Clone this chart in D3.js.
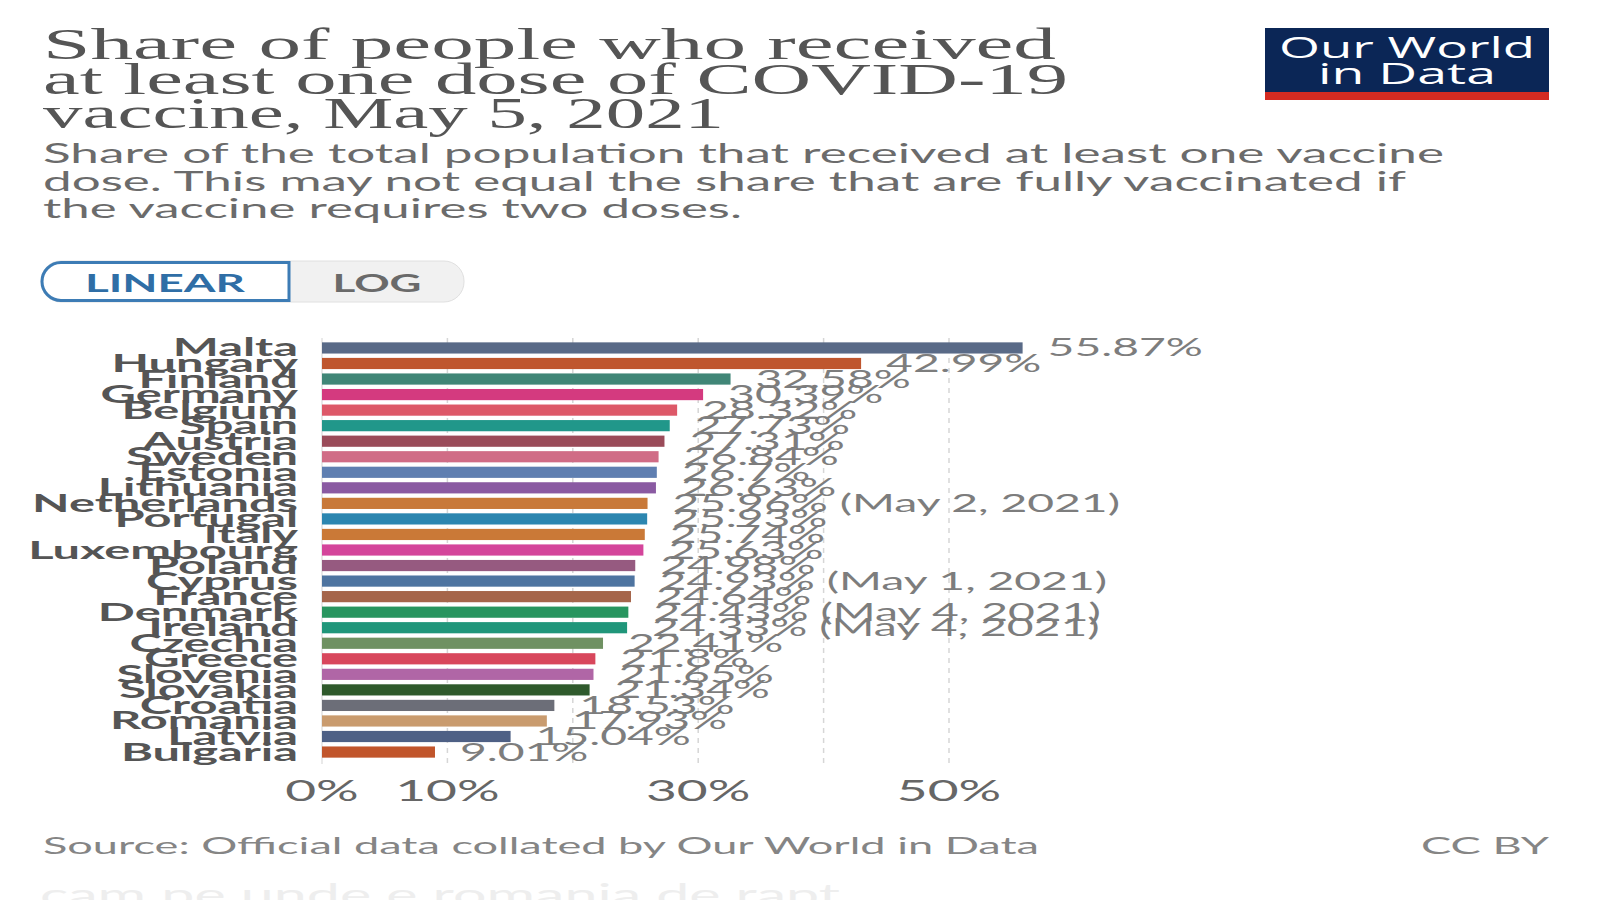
<!DOCTYPE html>
<html>
<head>
<meta charset="utf-8">
<script src="https://cdn.jsdelivr.net/npm/d3@7"></script>
<style>
	html, body { margin: 0; padding: 0; background: #fff; }
	svg { display: block; }
</style>
</head>
<body>
<svg id="chart" width="1600" height="900"></svg>
<script>
// data
var countries = ['Malta', 'Hungary', 'Finland', 'Germany', 'Belgium', 'Spain', 'Austria',
	'Sweden', 'Estonia', 'Lithuania', 'Netherlands', 'Portugal', 'Italy', 'Luxembourg',
	'Poland', 'Cyprus', 'France', 'Denmark', 'Ireland', 'Czechia', 'Greece', 'Slovenia',
	'Slovakia', 'Croatia', 'Romania', 'Latvia', 'Bulgaria'];
var values = [55.87, 42.99, 32.58, 30.39, 28.32, 27.73, 27.31, 26.84, 26.7, 26.63, 25.96,
	25.93, 25.74, 25.63, 24.98, 24.93, 24.64, 24.43, 24.33, 22.41, 21.8, 21.65, 21.34,
	18.53, 17.93, 15.04, 9.01];
var notes = {
	'Netherlands': '(May 2, 2021)',
	'Cyprus': '(May 1, 2021)',
	'Denmark': '(May 4, 2021)',
	'Ireland': '(May 4, 2021)'
};
var colors = ['#596a87', '#bf562e', '#408677', '#d43a7f', '#dd5868', '#21978a', '#9a4b59',
	'#d06c86', '#5f7fb1', '#8a5aa2', '#c8793a', '#2c86b0', '#ca7937', '#d4459b', '#965a80',
	'#4e74a0', '#a5654a', '#28955f', '#20967a', '#6f9162', '#d8475c', '#b066a6', '#2f5a2c',
	'#6c6e78', '#c99b6e', '#4e6085', '#c1552b'];
var gridTicks = [10, 20, 30, 40, 50];
var tickLabels = [0, 10, 30, 50];

var titleLines = ['Share of people who received', 'at least one dose of COVID-19', 'vaccine, May 5, 2021'];
var subtitleLines = ['Share of the total population that received at least one vaccine',
	'dose. This may not equal the share that are fully vaccinated if',
	'the vaccine requires two doses.'];
var sourceText = 'Source: Official data collated by Our World in Data';

var svg = d3.select('#chart');
var SX = 1.85; // the screenshot is stretched sideways

function stretch(sel, k) {
	sel.each(function () {
		var w = this.getComputedTextLength();
		d3.select(this).attr('textLength', w * k).attr('lengthAdjust', 'spacingAndGlyphs');
	});
}

svg.append('rect').attr('width', 1600).attr('height', 900).attr('fill', '#fff');

// title + subtitle
var titleW = [1013, 1025, 681];
svg.selectAll('text.title').data(titleLines).enter().append('text')
	.attr('class', 'title')
	.attr('x', 43).attr('y', function (d, i) { return 59 + i * 34.5; })
	.attr('font-family', '"Liberation Serif", serif').attr('font-size', 45)
	.attr('fill', '#555')
	.attr('textLength', function (d, i) { return titleW[i]; })
	.attr('lengthAdjust', 'spacingAndGlyphs')
	.text(function (d) { return d; });

var subW = [1401, 1363, 699];
svg.selectAll('text.sub').data(subtitleLines).enter().append('text')
	.attr('class', 'sub')
	.attr('x', 43).attr('y', function (d, i) { return 163 + i * 27.5; })
	.attr('font-family', 'Lato, sans-serif').attr('font-size', 27)
	.attr('fill', '#6b6b6b')
	.attr('textLength', function (d, i) { return subW[i]; })
	.attr('lengthAdjust', 'spacingAndGlyphs')
	.text(function (d) { return d; });

// logo
var logo = svg.append('g');
logo.append('rect').attr('x', 1265).attr('y', 28).attr('width', 284).attr('height', 72).attr('fill', '#0b2656');
logo.append('rect').attr('x', 1265).attr('y', 92).attr('width', 284).attr('height', 8).attr('fill', '#d42b21');
logo.append('text').attr('x', 1407).attr('y', 58).attr('text-anchor', 'middle')
	.attr('font-family', '"Open Sans", sans-serif').attr('font-size', 30).attr('fill', '#fff')
	.attr('textLength', 256).attr('lengthAdjust', 'spacingAndGlyphs').text('Our World');
logo.append('text').attr('x', 1407).attr('y', 84).attr('text-anchor', 'middle')
	.attr('font-family', '"Open Sans", sans-serif').attr('font-size', 30).attr('fill', '#fff')
	.attr('textLength', 178).attr('lengthAdjust', 'spacingAndGlyphs').text('in Data');

// linear / log toggle
var tg = svg.append('g');
tg.append('rect').attr('x', 41).attr('y', 261).attr('width', 423).attr('height', 41).attr('rx', 20)
	.attr('fill', '#f1f1f1').attr('stroke', '#e0e0e0');
tg.append('path')
	.attr('d', 'M289,262.5 H61 A19,19 0 0 0 61,300.5 H289 Z')
	.attr('fill', '#fff').attr('stroke', '#3d7cb5').attr('stroke-width', 3);
tg.append('text').attr('x', 165).attr('y', 292).attr('text-anchor', 'middle')
	.attr('font-family', 'Lato, sans-serif').attr('font-weight', 'bold').attr('font-size', 24)
	.attr('fill', '#2f6ea6').attr('textLength', 160).attr('lengthAdjust', 'spacingAndGlyphs').text('LINEAR');
tg.append('text').attr('x', 377).attr('y', 292).attr('text-anchor', 'middle')
	.attr('font-family', 'Lato, sans-serif').attr('font-weight', 'bold').attr('font-size', 24)
	.attr('fill', '#6a6a6a').attr('textLength', 89).attr('lengthAdjust', 'spacingAndGlyphs').text('LOG');

// scales
var x = d3.scaleLinear().domain([0, 50]).range([322, 949]);
var y = d3.scaleBand().domain(countries).range([338, 762]).padding(0.28);

var plot = svg.append('g');

plot.selectAll('line.grid').data(gridTicks).enter().append('line')
	.attr('class', 'grid')
	.attr('x1', function (d) { return x(d); }).attr('x2', function (d) { return x(d); })
	.attr('y1', 338).attr('y2', 764)
	.attr('stroke', '#d6d6d6').attr('stroke-width', 1.5).attr('stroke-dasharray', '5,5');
plot.append('line').attr('x1', x(0)).attr('x2', x(0)).attr('y1', 338).attr('y2', 764)
	.attr('stroke', '#e2e2e2').attr('stroke-width', 1.5);

plot.selectAll('rect.bar').data(countries).enter().append('rect')
	.attr('class', 'bar')
	.attr('x', x(0))
	.attr('y', function (d) { return y(d); })
	.attr('width', function (d, i) { return x(values[i]) - x(0); })
	.attr('height', y.bandwidth())
	.attr('fill', function (d, i) { return colors[i]; });

var names = plot.selectAll('text.name').data(countries).enter().append('text')
	.attr('class', 'name')
	.attr('x', 298)
	.attr('y', function (d) { return y(d) + y.bandwidth() / 2 + 8.5; })
	.attr('text-anchor', 'end')
	.attr('font-family', 'Lato, sans-serif').attr('font-weight', 'bold').attr('font-size', 25)
	.attr('fill', '#555')
	.text(function (d) { return d; });
stretch(names, 1.95);

var vals = plot.selectAll('text.val').data(countries).enter().append('text')
	.attr('class', 'val')
	.attr('x', function (d, i) { return x(values[i]) + 25; })
	.attr('y', function (d) { return y(d) + y.bandwidth() / 2 + 8.5; })
	.attr('font-family', 'Lato, sans-serif').attr('font-size', 25)
	.attr('fill', '#7d7d7d')
	.text(function (d, i) { return values[i] + '%' + (notes[d] ? ' ' + notes[d] : ''); });
stretch(vals, SX);

var ticks = plot.selectAll('text.tick').data(tickLabels).enter().append('text')
	.attr('class', 'tick')
	.attr('x', function (d) { return x(d); })
	.attr('y', 801)
	.attr('text-anchor', 'middle')
	.attr('font-family', 'Lato, sans-serif').attr('font-size', 28)
	.attr('fill', '#666')
	.text(function (d) { return d + '%'; });
stretch(ticks, 1.9);

// footer
svg.append('text').attr('x', 43).attr('y', 854)
	.attr('font-family', 'Lato, sans-serif').attr('font-size', 23).attr('fill', '#858585')
	.attr('textLength', 996).attr('lengthAdjust', 'spacingAndGlyphs').text(sourceText);
svg.append('text').attr('x', 1549).attr('y', 854).attr('text-anchor', 'end')
	.attr('font-family', 'Lato, sans-serif').attr('font-size', 23).attr('fill', '#858585')
	.attr('textLength', 128).attr('lengthAdjust', 'spacingAndGlyphs').text('CC BY');

// faint text of the app behind the screenshot, cut off by the bottom edge
svg.append('text').attr('x', 40).attr('y', 906)
	.attr('font-family', 'Lato, sans-serif').attr('font-size', 30).attr('fill', '#eeeeee')
	.attr('textLength', 800).attr('lengthAdjust', 'spacingAndGlyphs').text('cam pe unde e romania de rapt');
</script>
</body>
</html>
